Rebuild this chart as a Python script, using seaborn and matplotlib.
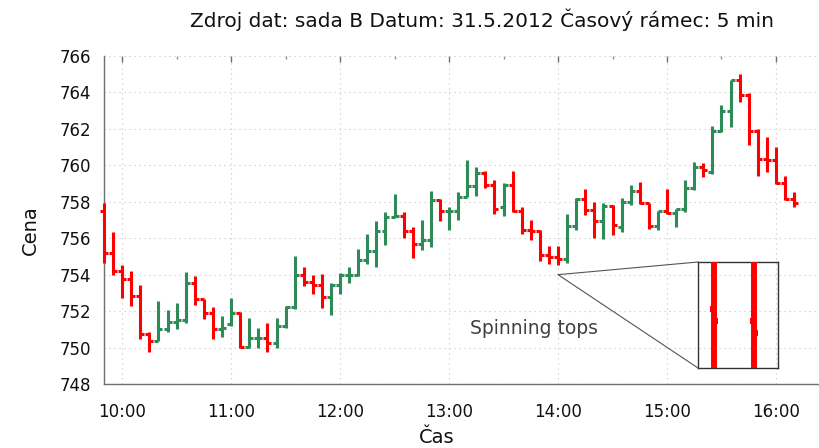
import numpy as np
import pandas as pd
import matplotlib
matplotlib.use("Agg")
import matplotlib.pyplot as plt
from matplotlib.patches import ConnectionPatch
import seaborn as sns

# 5-minute OHLC bars, 31.5.2012
times = pd.date_range("2012-05-31 09:50", periods=77, freq="5min")
open_ = [757.48, 755.19, 754.18, 753.78, 752.82, 750.72, 750.37, 751.00, 751.41, 751.49,
         753.56, 752.64, 751.90, 751.00, 751.28, 751.87, 750.04, 750.50, 750.55, 750.23,
         751.17, 752.23, 754.00, 753.60, 753.46, 752.78, 753.46, 753.96, 754.00, 754.80,
         755.30, 756.39, 757.16, 757.20, 756.39, 755.70, 755.92, 758.10, 757.48, 757.52,
         758.25, 758.89, 759.56, 758.92, 757.70, 758.92, 757.52, 756.46, 756.40, 755.06,
         754.97, 754.88, 756.68, 758.16, 757.56, 756.92, 757.79, 756.62, 757.98, 758.61,
         757.92, 756.65, 757.48, 757.38, 757.61, 758.75, 759.89, 759.64, 761.90, 762.99,
         764.69, 763.85, 761.86, 760.35, 760.30, 759.04, 758.16]
high = [757.94, 756.33, 754.51, 754.22, 753.42, 750.86, 752.54, 752.05, 752.42, 754.15,
        753.93, 752.69, 752.23, 751.72, 752.72, 751.96, 751.63, 751.05, 751.36, 751.63,
        752.27, 755.00, 754.42, 753.97, 754.02, 753.55, 754.10, 754.42, 755.42, 756.21,
        756.94, 757.43, 758.43, 757.43, 756.61, 757.01, 758.61, 758.16, 757.70, 758.52,
        760.29, 759.93, 759.67, 759.20, 759.02, 759.71, 757.70, 757.01, 756.46, 755.55,
        755.55, 757.34, 758.21, 758.71, 758.01, 757.92, 757.82, 758.21, 758.92, 759.11,
        757.92, 757.52, 758.71, 757.61, 759.22, 760.20, 760.13, 762.17, 763.30, 764.69,
        765.00, 763.96, 762.02, 761.53, 761.02, 759.44, 758.52]
low = [754.64, 753.97, 752.72, 752.27, 750.46, 749.77, 750.35, 750.83, 751.00, 751.34,
       752.36, 751.54, 750.45, 750.56, 751.17, 749.99, 750.00, 749.95, 749.77, 749.95,
       751.05, 752.14, 753.36, 752.96, 752.18, 751.78, 752.93, 753.54, 753.91, 754.60,
       754.42, 755.61, 757.16, 756.03, 754.93, 755.37, 755.51, 756.94, 756.43, 757.01,
       758.25, 758.34, 758.74, 757.34, 757.21, 757.43, 756.25, 755.88, 754.75, 754.58,
       754.51, 754.64, 756.43, 757.25, 756.03, 755.93, 756.15, 756.33, 757.85, 757.89,
       756.52, 756.46, 757.34, 756.61, 757.43, 758.67, 759.34, 759.53, 761.84, 762.08,
       763.45, 761.11, 759.44, 759.62, 759.00, 758.10, 757.74]
close = [755.19, 754.18, 753.78, 752.82, 750.72, 750.37, 751.00, 751.41, 751.49, 753.56,
         752.64, 751.90, 751.00, 751.05, 751.87, 750.04, 750.50, 750.55, 750.23, 751.17,
         752.23, 754.00, 753.60, 753.46, 752.78, 753.46, 753.96, 754.00, 754.80, 755.30,
         756.39, 757.16, 757.20, 756.39, 755.70, 755.92, 758.10, 757.48, 757.52, 758.25,
         758.89, 759.56, 758.92, 757.61, 758.92, 757.52, 756.46, 756.40, 755.06, 754.97,
         754.88, 756.68, 758.16, 757.56, 756.92, 757.79, 756.70, 757.98, 758.61, 757.92,
         756.65, 757.48, 757.38, 757.61, 758.75, 759.89, 759.72, 761.90, 762.99, 764.69,
         763.85, 761.86, 760.35, 760.31, 759.04, 758.16, 757.92]

x_tick_labels = ["10:00", "11:00", "12:00", "13:00", "14:00", "15:00", "16:00"]
y_ticks = [748, 750, 752, 754, 756, 758, 760, 762, 764, 766]
title = "Zdroj dat: sada B Datum: 31.5.2012 Časový rámec: 5 min"
spinning_idx = [49, 50]

UP, DOWN = "#2e8b57", "#ff0000"

df = pd.DataFrame({"t": times.hour * 60 + times.minute, "open": open_,
                   "high": high, "low": low, "close": close})
df["bar"] = np.arange(len(df))
df["dir"] = np.where(df["close"] >= df["open"], "up", "down")
df["color"] = df["dir"].map({"up": UP, "down": DOWN})

# long table: one low and one high point per bar for the range lines
rng = pd.concat([df.assign(price=df["low"]), df.assign(price=df["high"])])[
    ["t", "price", "bar", "dir"]].sort_values(["bar", "price"])

sns.set_theme(style="white")
plt.rcParams["font.family"] = ["DejaVu Sans"]

fig = plt.figure(figsize=(8.2, 4.48), dpi=100)
ax = fig.add_axes([104 / 820, 1 - 384 / 448, (819 - 104) / 820, (384 - 56) / 448])


def draw_bars(axis, data, lw, tick_len, clip=True):
    sns.lineplot(data=rng[rng["bar"].isin(data["bar"])],
                 x="t", y="price", units="bar", estimator=None, hue="dir",
                 palette={"up": UP, "down": DOWN}, legend=False, sort=False,
                 lw=lw, solid_capstyle="butt", ax=axis)
    for ln in axis.lines:
        ln.set_clip_on(clip)
        ln.set_zorder(3)
    axis.hlines(data["open"], data["t"] - tick_len, data["t"], colors=data["color"],
                lw=lw, clip_on=clip, zorder=3)
    axis.hlines(data["close"], data["t"], data["t"] + tick_len, colors=data["color"],
                lw=lw, clip_on=clip, zorder=3)


draw_bars(ax, df, 2.2, 2.2, clip=False)

hours = [int(s.split(":")[0]) * 60 for s in x_tick_labels]
ax.set_xticks(hours)
ax.set_xticklabels(x_tick_labels)
ax.set_xticks([h + 30 for h in hours[:-1]] + [hours[-1] + 30], minor=True)
ax.set_yticks(y_ticks)
ax.set_yticklabels([str(v) for v in y_ticks])
ax.set_xlim(590, 983.7)
ax.set_ylim(748, 766)
ax.set_xlabel("")
ax.set_ylabel("")

ax.grid(True, which="major", color="#c4c4c4", lw=0.8, linestyle=(0, (1, 3.5)))
ax.set_axisbelow(True)
for side in ["top", "right"]:
    ax.spines[side].set_visible(False)
for side in ["left", "bottom"]:
    ax.spines[side].set_color("#707070")
    ax.spines[side].set_linewidth(1.0)
ax.tick_params(axis="both", which="major", direction="in", width=1,
               color="#707070", labelsize=12, labelcolor="#111111")
ax.tick_params(axis="y", which="major", length=7, pad=9)
ax.tick_params(axis="x", which="both", top=True)
ax.tick_params(axis="x", which="major", length=4, pad=14)
ax.tick_params(axis="x", which="minor", direction="in", length=2, width=1,
               color="#909090")

fig.text(482 / 820, 1 - 20 / 448, title, ha="center", va="center", fontsize=14.5,
         color="#111111")
fig.text(30 / 820, 1 - 230 / 448, "Cena", ha="center", va="center", rotation=90,
         fontsize=14, color="#111111")
fig.text(437 / 820, 1 - 437 / 448, "Čas", ha="center", va="center", fontsize=14,
         color="#111111")

ax.text(827, 751.05, "Spinning tops", ha="center", va="center", fontsize=13.5,
        color="#404040")

# magnified view of the two spinning tops
ins = fig.add_axes([698 / 820, 1 - 368 / 448, 80 / 820, 106 / 448])
draw_bars(ins, df.iloc[spinning_idx], 4.3, 0.56)
ins.set_xlim(833, 843)
ins.set_ylim(754.61, 755.42)
ins.set_xticks([])
ins.set_yticks([])
ins.set_xlabel("")
ins.set_ylabel("")
ins.set_facecolor("none")
for sp in ins.spines.values():
    sp.set_visible(True)
    sp.set_color("#333333")
    sp.set_linewidth(1.0)

for corner in [(0, 1), (0, 0)]:
    con = ConnectionPatch(xyA=(840, 754), coordsA=ax.transData,
                          xyB=corner, coordsB=ins.transAxes,
                          color="#555555", lw=0.8)
    fig.add_artist(con)

fig.savefig("out.png", dpi=100)
